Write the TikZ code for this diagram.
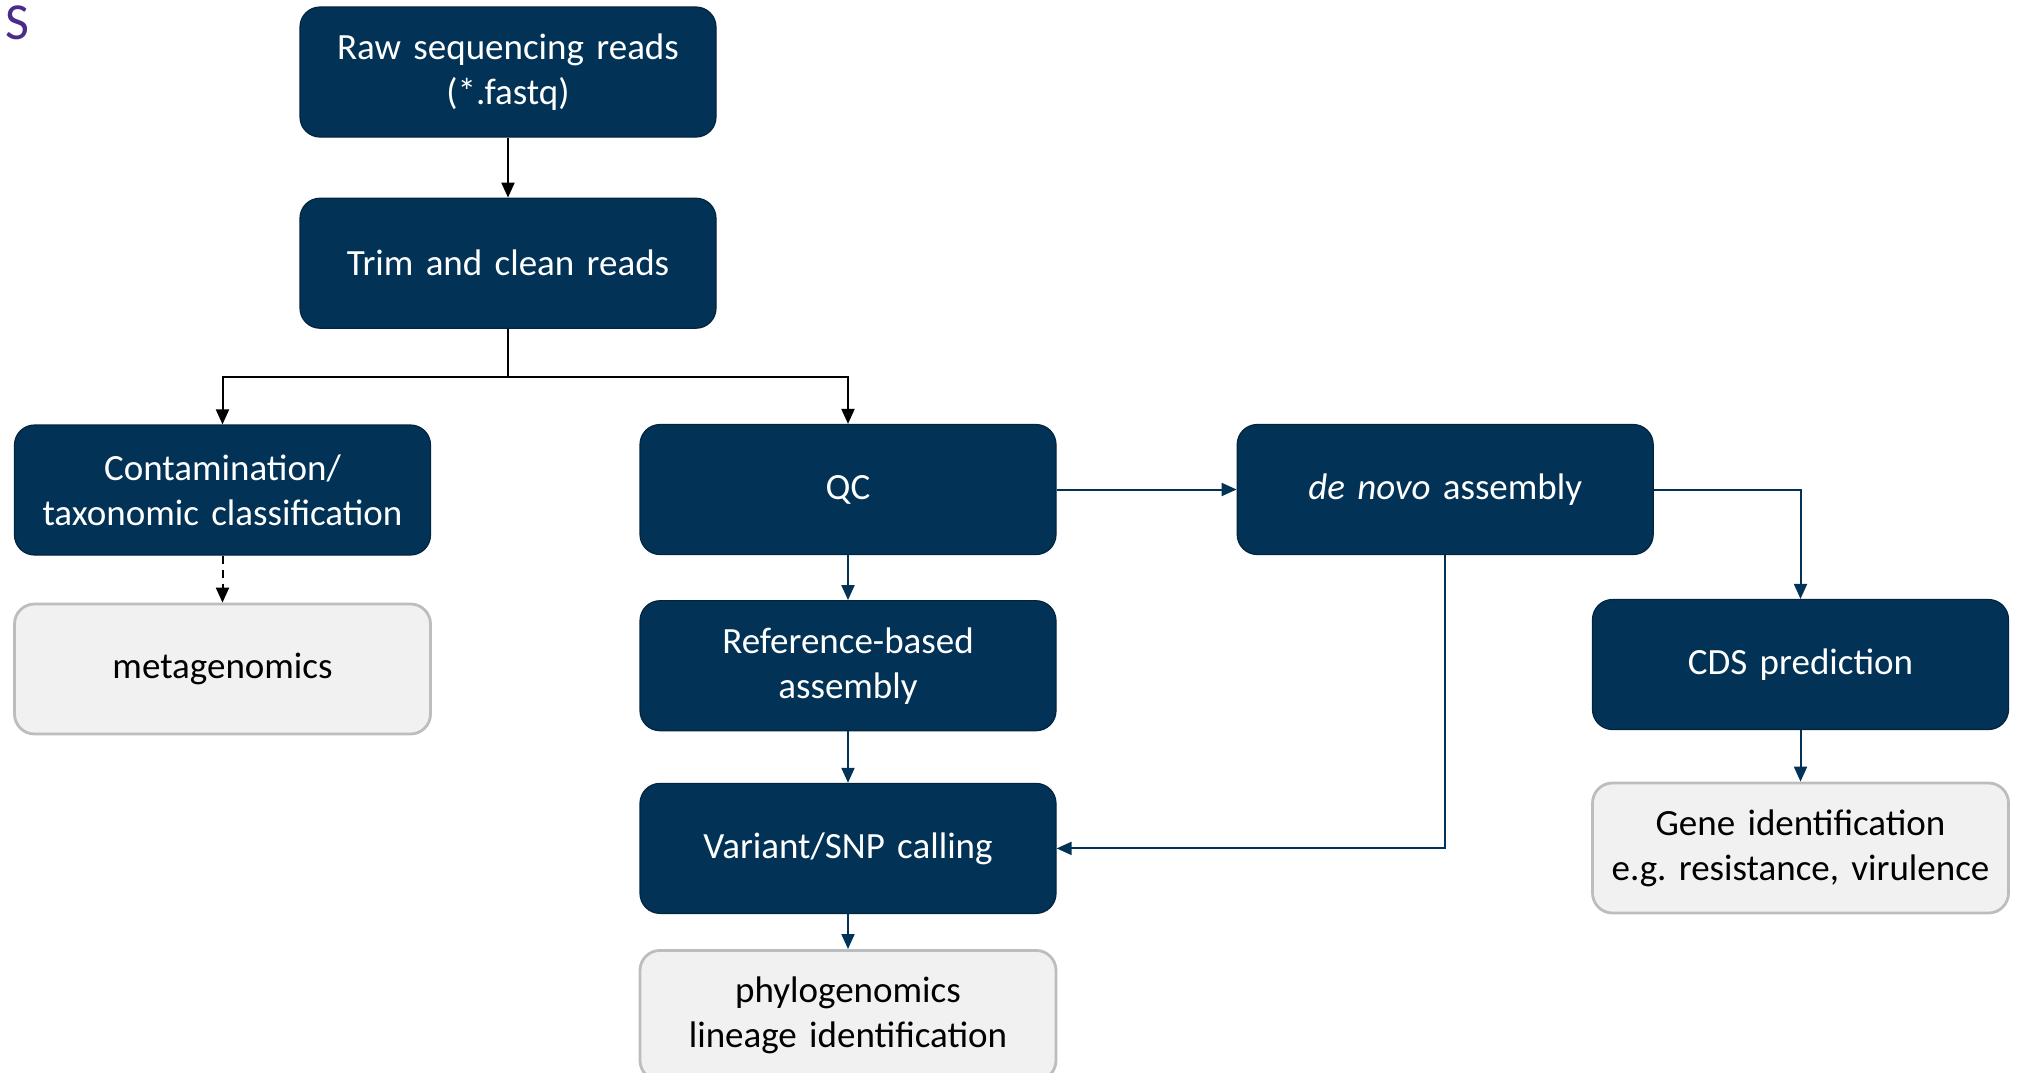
\documentclass[tikz,border=0pt]{standalone}
\usepackage{fontspec}
\setmainfont{Carlito}
\usepackage{xcolor}
\usepackage{tikz}
\usetikzlibrary{arrows.meta,positioning}
\definecolor{navy}{HTML}{023357}
\definecolor{navyedge}{HTML}{01243F}
\definecolor{paleg}{HTML}{F1F1F1}
\definecolor{paleedge}{HTML}{BDBDBD}
\definecolor{tagpurple}{HTML}{4A2B8C}

\begin{document}
\begin{tikzpicture}[
  x=0.5pt,y=-0.5pt,>={Triangle[length=7.5pt,width=6.5pt]},
  font=\fontsize{18.5}{22.5}\selectfont,
  bx/.style={rounded corners=10pt,minimum width=208pt,minimum height=65pt,text width=204pt,align=center,inner sep=0pt},
  dk/.style={bx,fill=navy,draw=navyedge,line width=0.6pt,text=white},
  lt/.style={bx,fill=paleg,draw=paleedge,line width=1.4pt,text=black},
  blk/.style={->,line width=1pt,black},
  blu/.style={->,line width=1pt,navy}
]
\useasboundingbox (0,0) rectangle (2019,1072);
\node[anchor=north west,inner sep=0pt,text=tagpurple,font=\fontsize{26}{26}\selectfont] (tag) at (5,5) {S};

\node[dk] (raw) at (508,72) {Raw sequencing reads\\(*.fastq)};
\node[dk,below=30pt of raw] (trim) {Trim and clean reads};
\node[dk] (cont) at (222.5,490) {Contamination/\\taxonomic classification};
\node[lt,below=23.5pt of cont] (meta) {metagenomics};
\node[dk] (qc) at (848,489.5) {QC};
\node[dk,below=22.5pt of qc] (ref) {Reference-based\\assembly};
\node[dk,below=25.75pt of ref] (var) {Variant/SNP calling};
\node[lt,below=17.5pt of var] (phylo) {phylogenomics\\lineage identification};
\node[dk,right=90pt of qc] (denovo) {\textit{de novo} assembly};
\node[dk] (cds) at (1800.5,664.5) {CDS prediction};
\node[lt,below=25.75pt of cds] (gene) {Gene identification\\e.g.\ resistance, virulence};

\draw[blk] (raw)--(trim);
\draw[blk] (trim.south)--++(0,-24pt)-|(cont.north);
\draw[blk] (trim.south)--++(0,-24pt)-|(qc.north);
\draw[blk,dashed,dash pattern=on 4pt off 3pt] (cont)--(meta);
\draw[blu] (qc)--(ref);
\draw[blu] (ref)--(var);
\draw[blu] (var)--(phylo);
\draw[blu] (qc)--(denovo);
\draw[blu] (denovo.east)-|(cds.north);
\draw[blu] (denovo.south)|-(var.east);
\draw[blu] (cds)--(gene);
\end{tikzpicture}
\end{document}
